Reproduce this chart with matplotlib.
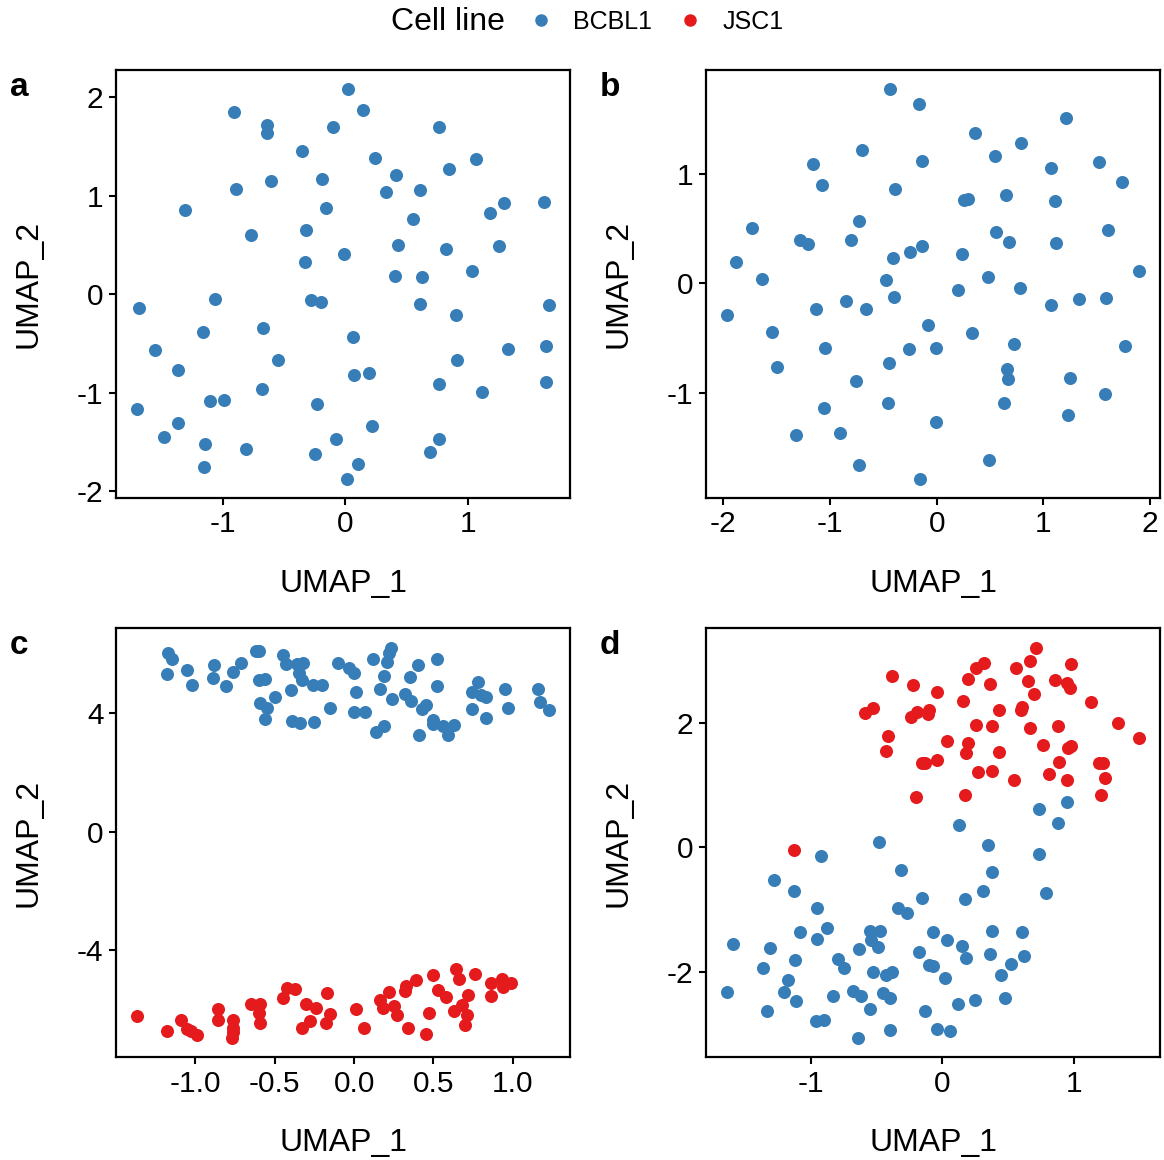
import numpy as np
import matplotlib.pyplot as plt
from matplotlib.lines import Line2D

plt.rcParams['font.family'] = ['Liberation Sans', 'DejaVu Sans']
plt.rcParams['axes.unicode_minus'] = False

BLUE = '#377EB8'
RED = '#E41A1C'

# panel a: BCBL1 only
a_x = [0.02, -0.91, 0.14, -0.64, -0.64, -0.10, 0.76, -0.35, 0.24, 1.06, 0.84, 0.41,
       -0.19, -0.61, -0.89, 0.33, 0.61, 1.62, 1.29, 1.18, -0.16, -1.31, 0.55, -0.32,
       -0.77, 0.43, 0.82, 1.25, -0.01, -0.33, 1.03, 0.40, 0.62, -1.06, -0.28, -0.20,
       -1.68, 0.61, 1.66, 0.90, -1.16, -0.67, 0.06, -1.55, 1.32, 1.63, -0.55, 0.91,
       -1.36, 0.07, 0.19, 0.76, 1.63, -0.68, 1.11, -1.10, -0.99, -1.70, -0.23, -1.36,
       0.22, -1.48, -1.14, -0.08, 0.76, -0.81, 0.69, -0.25, 0.10, -1.15, 0.01]
a_y = [2.08, 1.85, 1.87, 1.72, 1.64, 1.70, 1.70, 1.46, 1.38, 1.37, 1.27, 1.21,
       1.17, 1.15, 1.07, 1.04, 1.06, 0.94, 0.93, 0.83, 0.88, 0.86, 0.76, 0.65,
       0.60, 0.50, 0.46, 0.49, 0.41, 0.33, 0.24, 0.19, 0.18, -0.05, -0.06, -0.08,
       -0.14, -0.10, -0.11, -0.21, -0.38, -0.34, -0.43, -0.57, -0.55, -0.52, -0.67, -0.67,
       -0.77, -0.82, -0.80, -0.91, -0.89, -0.96, -0.99, -1.08, -1.07, -1.16, -1.11, -1.31,
       -1.34, -1.45, -1.52, -1.47, -1.47, -1.57, -1.60, -1.62, -1.72, -1.75, -1.87]

# panel b: BCBL1 only
b_x = [-0.44, -0.17, 1.21, 0.36, 0.79, -0.70, 0.55, -0.14, 1.52, -1.16, 1.07, 1.74,
       -1.08, -0.39, 0.65, 0.26, 0.29, 1.11, -0.73, -1.73, 1.61, 0.56, -1.28, -1.21,
       -0.80, 0.68, 1.12, -0.14, -0.25, 0.24, -0.41, -1.88, 1.90, -1.64, -0.48, 0.48,
       0.20, 0.78, -0.40, -0.85, 1.33, 1.59, -1.13, -0.66, 1.07, -1.97, -0.08, -1.54,
       0.33, -1.05, -0.26, -0.01, 0.72, 1.77, -0.45, -1.50, 0.66, 0.67, 1.25, -0.76,
       1.58, -0.46, 0.63, -1.06, 1.23, -0.01, -1.32, -0.91, 0.49, -0.73, -0.16]
b_y = [1.77, 1.64, 1.51, 1.37, 1.28, 1.22, 1.16, 1.12, 1.11, 1.09, 1.05, 0.93,
       0.90, 0.86, 0.81, 0.76, 0.77, 0.75, 0.57, 0.51, 0.49, 0.47, 0.40, 0.36,
       0.40, 0.38, 0.37, 0.34, 0.29, 0.27, 0.23, 0.20, 0.11, 0.04, 0.03, 0.06,
       -0.06, -0.04, -0.12, -0.16, -0.14, -0.13, -0.23, -0.23, -0.20, -0.29, -0.38, -0.44,
       -0.45, -0.59, -0.60, -0.59, -0.55, -0.57, -0.73, -0.76, -0.78, -0.87, -0.86, -0.89,
       -1.01, -1.09, -1.09, -1.14, -1.20, -1.26, -1.38, -1.36, -1.61, -1.66, -1.78]

# panel c
c_bcbl1_x = [-1.17, -1.15, -1.18, -1.05, -1.02, -0.88, -0.89, -0.81, -0.76, -0.71, -0.62, -0.60,
             -0.60, -0.56, -0.59, -0.55, -0.56, -0.50, -0.45, -0.43, -0.36, -0.32, -0.35, -0.33,
             -0.40, -0.39, -0.34, -0.26, -0.20, -0.25, -0.15, -0.10, -0.03, 0.00, 0.01, 0.00,
             0.07, 0.12, 0.23, 0.22, 0.21, 0.19, 0.16, 0.24, 0.14, 0.19, 0.35, 0.40,
             0.32, 0.36, 0.45, 0.43, 0.41, 0.52, 0.52, 0.50, 0.50, 0.56, 0.63, 0.59,
             0.78, 0.74, 0.80, 0.83, 0.74, 0.83, 0.95, 0.97, 1.16, 1.17, 1.23]
c_bcbl1_y = [6.02, 5.83, 5.31, 5.47, 4.96, 5.64, 5.19, 4.92, 5.40, 5.69, 6.09, 6.11,
             5.12, 5.15, 4.36, 4.19, 3.80, 4.55, 5.98, 5.65, 5.66, 5.71, 5.35, 5.12,
             4.78, 3.75, 3.67, 4.97, 4.97, 3.72, 4.17, 5.69, 5.53, 5.35, 4.71, 4.03,
             4.03, 5.84, 6.22, 6.04, 5.73, 5.27, 4.82, 4.49, 3.37, 3.56, 5.21, 5.63,
             4.65, 4.42, 4.27, 4.13, 3.28, 5.82, 4.93, 3.78, 3.64, 3.58, 3.61, 3.27,
             5.04, 4.71, 4.62, 4.54, 4.13, 3.85, 4.82, 4.18, 4.82, 4.38, 4.11]
c_jsc1_x = [-1.37, -1.18, -1.09, -1.05, -1.03, -0.99, -0.86, -0.86, -0.76, -0.76, -0.76, -0.77,
            -0.65, -0.59, -0.60, -0.59, -0.45, -0.42, -0.37, -0.30, -0.24, -0.28, -0.33, -0.17,
            -0.15, -0.18, 0.01, 0.06, 0.16, 0.22, 0.18, 0.25, 0.27, 0.32, 0.33, 0.39,
            0.34, 0.45, 0.47, 0.50, 0.53, 0.58, 0.64, 0.66, 0.76, 0.72, 0.68, 0.63,
            0.71, 0.70, 0.86, 0.93, 0.94, 0.99, 0.86]
c_jsc1_y = [-6.21, -6.71, -6.35, -6.64, -6.71, -6.87, -5.97, -6.35, -6.34, -6.61, -6.76, -6.94,
            -5.80, -5.80, -6.13, -6.44, -5.60, -5.27, -5.29, -5.80, -5.93, -6.39, -6.62, -5.44,
            -6.16, -6.45, -5.99, -6.62, -5.66, -5.42, -5.93, -5.89, -6.19, -5.38, -5.21, -4.99,
            -6.62, -6.83, -6.11, -4.84, -5.35, -5.59, -4.62, -4.98, -4.80, -5.52, -5.83, -6.05,
            -6.19, -6.53, -5.11, -4.97, -5.24, -5.09, -5.55]

# panel d
d_bcbl1_x = [0.95, 0.74, 0.88, 0.13, -0.48, 0.35, -0.92, 0.74, -0.31, 0.38, -1.28, -1.13,
             0.31, 0.79, -0.15, 0.17, -0.95, -0.34, -0.27, -0.88, -1.08, -0.95, -0.55, -0.47,
             -0.54, -0.49, -0.63, -0.07, 0.04, 0.15, 0.38, 0.61, -1.59, -1.31, -1.12, -0.18,
             0.18, 0.36, 0.62, -0.79, -0.75, -1.36, -1.17, -0.53, -0.43, -0.38, -0.10, -0.07,
             0.52, 0.45, 0.02, -1.64, -1.20, -1.11, -1.33, -0.83, -0.68, -0.62, -0.45, -0.40,
             -0.55, -0.96, -0.90, -0.64, -0.40, -0.13, -0.04, 0.06, 0.12, 0.25, 0.48]
d_bcbl1_y = [0.72, 0.62, 0.39, 0.36, 0.08, 0.03, -0.14, -0.11, -0.36, -0.40, -0.53, -0.71,
             -0.70, -0.73, -0.81, -0.83, -0.98, -0.98, -1.06, -1.30, -1.36, -1.48, -1.35, -1.35,
             -1.49, -1.61, -1.64, -1.37, -1.50, -1.59, -1.35, -1.37, -1.56, -1.62, -1.82, -1.68,
             -1.78, -1.71, -1.75, -1.79, -1.95, -1.95, -2.14, -2.01, -2.06, -2.01, -1.89, -1.91,
             -1.88, -2.05, -2.10, -2.33, -2.33, -2.48, -2.63, -2.40, -2.32, -2.39, -2.34, -2.42,
             -2.60, -2.79, -2.78, -3.06, -2.94, -2.63, -2.92, -2.95, -2.52, -2.46, -2.43]
d_jsc1_x = [0.71, 0.67, 0.32, 0.26, 0.56, 0.98, -0.38, 0.20, 0.65, 0.86, 0.95, 0.97,
            0.36, -0.22, -0.04, 0.70, 0.16, 1.13, -0.53, -0.59, -0.24, -0.19, -0.10, -0.11,
            0.43, 0.61, 0.60, 1.34, 0.26, 0.38, 0.67, 0.88, 1.50, -0.41, 0.04, 0.20,
            0.18, 0.77, 0.98, 0.96, -0.43, 0.43, -0.04, -0.15, -0.13, 0.89, 1.19, 1.22,
            0.27, 0.38, 0.55, 0.81, 0.95, 1.24, -0.20, 0.17, 1.21, -1.13]
d_jsc1_y = [3.21, 3.00, 2.96, 2.88, 2.88, 2.94, 2.75, 2.71, 2.67, 2.68, 2.64, 2.56,
            2.63, 2.60, 2.50, 2.46, 2.35, 2.34, 2.23, 2.15, 2.10, 2.18, 2.20, 2.14,
            2.20, 2.26, 2.20, 2.00, 1.97, 1.94, 1.91, 1.95, 1.76, 1.78, 1.71, 1.67,
            1.52, 1.65, 1.62, 1.60, 1.54, 1.53, 1.40, 1.35, 1.35, 1.37, 1.36, 1.36,
            1.21, 1.22, 1.08, 1.18, 1.08, 1.11, 0.80, 0.84, 0.84, -0.05]

fig = plt.figure(figsize=(11.64, 11.60), dpi=100)

W, H = 1164, 1160
def make_ax(left, top, right, bottom):
    return fig.add_axes([left / W, 1 - bottom / H, (right - left) / W, (bottom - top) / H])

ax_a = make_ax(116, 70, 570, 498)
ax_b = make_ax(706, 70, 1160, 498)
ax_c = make_ax(116, 628, 570, 1057)
ax_d = make_ax(706, 628, 1160, 1057)

S = 88
ax_a.scatter(a_x, a_y, s=S, c=BLUE, linewidths=0)
ax_b.scatter(b_x, b_y, s=S, c=BLUE, linewidths=0)
ax_c.scatter(c_bcbl1_x, c_bcbl1_y, s=S, c=BLUE, linewidths=0)
ax_c.scatter(c_jsc1_x, c_jsc1_y, s=S, c=RED, linewidths=0)
ax_d.scatter(d_bcbl1_x, d_bcbl1_y, s=S, c=BLUE, linewidths=0)
ax_d.scatter(d_jsc1_x, d_jsc1_y, s=S, c=RED, linewidths=0)

ax_a.set_xticks([-1, 0, 1]); ax_a.set_yticks([-2, -1, 0, 1, 2])
ax_b.set_xticks([-2, -1, 0, 1, 2]); ax_b.set_yticks([-1, 0, 1])
ax_c.set_xticks([-1.0, -0.5, 0.0, 0.5, 1.0])
ax_c.set_xticklabels(['-1.0', '-0.5', '0.0', '0.5', '1.0'])
ax_c.set_yticks([-4, 0, 4])
ax_d.set_xticks([-1, 0, 1]); ax_d.set_yticks([-2, 0, 2])

for ax, tag in zip([ax_a, ax_b, ax_c, ax_d], ['a', 'b', 'c', 'd']):
    ax.margins(0.05)
    for sp in ax.spines.values():
        sp.set_linewidth(1.6)
    ax.tick_params(length=5, width=1.5, labelsize=21.5, pad=4)
    ax.set_xlabel('UMAP_1', fontsize=23, labelpad=22)
    ax.set_ylabel('UMAP_2', fontsize=23, labelpad=24)
    pos = ax.get_position()
    fig.text(pos.x0 - 106 / W, pos.y1 - 17 / H, tag, fontsize=24, fontweight='bold',
             ha='left', va='center')

# legend on top
fig.text(448 / W, 1 - 22 / H, 'Cell line', fontsize=23, ha='center', va='center')
handles = [Line2D([], [], marker='o', ls='', color=BLUE, markersize=8),
           Line2D([], [], marker='o', ls='', color=RED, markersize=8)]
fig.legend(handles, ['BCBL1', 'JSC1'], ncol=2, loc='center', bbox_to_anchor=(656 / W, 1 - 22 / H),
           frameon=False, fontsize=18, handletextpad=0.8, columnspacing=1.0,
           borderpad=0, handlelength=1.0)

fig.savefig('out.png', dpi=100)
